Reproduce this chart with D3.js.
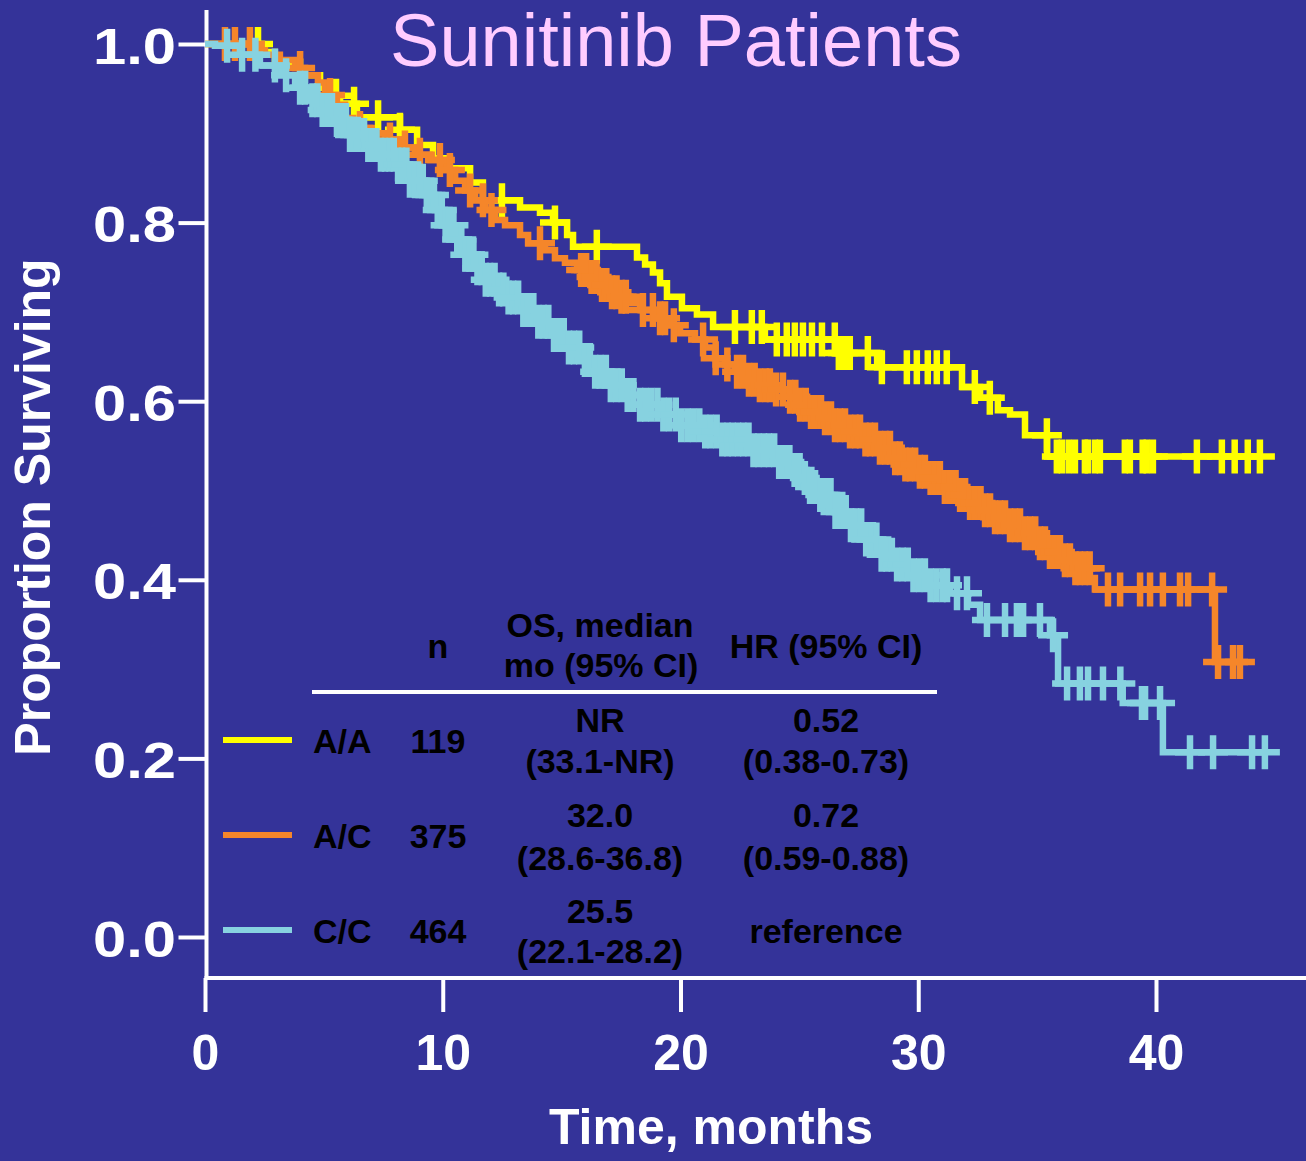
<!DOCTYPE html>
<html>
<head>
<meta charset="utf-8">
<script src="https://cdn.jsdelivr.net/npm/d3@7/dist/d3.min.js"></script>
<style>
  html, body { margin: 0; padding: 0; background: #343399; }
  svg { display: block; }
</style>
</head>
<body>
<svg id="chart" width="1306" height="1161"></svg>
<script>
// Axis ticks
const monthTicks = [0, 10, 20, 30, 40];
const survTicks = [0, 0.2, 0.4, 0.6, 0.8, 1.0];

// Kaplan-Meier step knots [month, proportion surviving] per genotype
const aaSteps = [
  [0, 1.000], [2.40, 0.991], [2.94, 0.980], [4.00, 0.965], [4.84, 0.951], [5.26, 0.942],
  [5.68, 0.933], [6.39, 0.918], [8.20, 0.904], [8.92, 0.887], [9.59, 0.872], [10.30, 0.861],
  [11.15, 0.845], [11.69, 0.825], [13.25, 0.817], [14.09, 0.811], [14.64, 0.800], [15.23, 0.786],
  [15.48, 0.773], [18.17, 0.761], [18.51, 0.753], [18.84, 0.744], [19.14, 0.732], [19.43, 0.717],
  [20.06, 0.704], [20.69, 0.697], [21.37, 0.683], [23.55, 0.669], [26.58, 0.654], [28.27, 0.638],
  [31.84, 0.616], [32.60, 0.604], [33.35, 0.590], [33.86, 0.585], [34.49, 0.562], [35.42, 0.538]
];
const acSteps = [
  [0, 1.000], [2.10, 0.993], [2.52, 0.988], [3.15, 0.982], [3.79, 0.973], [4.21, 0.965],
  [4.75, 0.957], [5.05, 0.943], [5.55, 0.932], [5.89, 0.917], [6.23, 0.906], [6.94, 0.900],
  [7.57, 0.893], [8.20, 0.884], [8.83, 0.876], [9.46, 0.870], [10.09, 0.859], [10.52, 0.847],
  [10.94, 0.836], [11.36, 0.825], [11.78, 0.814], [12.20, 0.803], [12.62, 0.797], [13.25, 0.786],
  [13.59, 0.777], [14.30, 0.769], [14.72, 0.760], [15.14, 0.755], [15.65, 0.747], [16.19, 0.739],
  [16.61, 0.730], [17.12, 0.722], [17.46, 0.717], [17.88, 0.710], [18.30, 0.702], [18.93, 0.693],
  [19.56, 0.685], [19.98, 0.676], [20.61, 0.669], [21.03, 0.660], [21.45, 0.648], [21.87, 0.641],
  [22.29, 0.633], [22.71, 0.624], [23.34, 0.618], [23.97, 0.613], [24.40, 0.605], [25.03, 0.596],
  [25.45, 0.588], [26.08, 0.581], [26.50, 0.573], [27.13, 0.566], [27.76, 0.557], [28.39, 0.548],
  [29.02, 0.536], [29.44, 0.529], [29.99, 0.521], [30.49, 0.514], [31.12, 0.504], [31.67, 0.495],
  [32.18, 0.486], [32.81, 0.478], [33.23, 0.470], [33.86, 0.461], [34.49, 0.452], [35.12, 0.441],
  [35.54, 0.431], [36.05, 0.422], [36.59, 0.413], [37.22, 0.402], [37.43, 0.389], [42.48, 0.308]
];
const ccSteps = [
  [0, 1.000], [0.42, 0.998], [1.47, 0.988], [2.31, 0.976], [3.15, 0.965], [3.79, 0.951],
  [4.42, 0.937], [4.84, 0.926], [5.47, 0.915], [6.10, 0.898], [6.73, 0.887], [7.36, 0.876],
  [7.99, 0.865], [8.62, 0.847], [9.25, 0.831], [9.67, 0.814], [10.09, 0.797], [10.52, 0.781],
  [10.94, 0.764], [11.36, 0.749], [11.78, 0.736], [12.20, 0.725], [12.62, 0.716], [13.25, 0.702],
  [13.88, 0.689], [14.51, 0.674], [15.14, 0.660], [15.77, 0.646], [16.40, 0.633], [17.03, 0.618],
  [17.67, 0.607], [18.30, 0.596], [19.14, 0.585], [19.98, 0.573], [20.82, 0.566], [21.66, 0.557],
  [22.92, 0.545], [23.97, 0.532], [24.61, 0.523], [25.03, 0.514], [25.45, 0.504], [25.87, 0.495],
  [26.50, 0.476], [27.13, 0.461], [27.76, 0.445], [28.39, 0.428], [29.02, 0.417], [29.65, 0.405],
  [30.49, 0.394], [31.34, 0.385], [32.09, 0.372], [32.60, 0.355], [35.54, 0.338], [35.88, 0.284],
  [38.60, 0.262], [40.29, 0.207]
];

// Censoring times (months) per genotype
const aaCensor = [
  2.23, 5.51, 6.27, 7.28, 8.20, 12.49, 14.72, 16.48, 22.29, 23.00, 23.42, 24.05, 24.47, 24.81,
  25.15, 25.53, 25.95, 26.49, 26.66, 26.83, 27.02, 27.12, 27.88, 28.47, 29.52, 29.94, 30.40,
  30.78, 31.20, 32.38, 33.01, 35.41, 35.83, 36.04, 36.33, 36.59, 37.01, 37.13, 37.43, 37.64,
  38.69, 38.90, 39.44, 39.61, 39.87, 41.72, 42.77, 43.31, 43.86, 44.37
];
const acCensor = [
  0.84, 1.26, 1.89, 4.00, 5.26, 6.52, 7.78, 8.41, 9.04, 9.88, 10.30, 11.15, 11.69, 12.05, 14.09,
  15.82, 16.03, 16.26, 16.47, 16.70, 16.88, 17.12, 17.31, 17.52, 17.70, 18.42, 18.84, 19.14,
  19.35, 19.72, 20.95, 21.48, 21.97, 22.38, 22.63, 22.88, 23.12, 23.34, 23.58, 23.76, 24.02,
  24.31, 24.61, 24.83, 25.03, 25.27, 25.49, 25.66, 25.91, 26.08, 26.33, 26.50, 26.71, 26.92,
  27.13, 27.36, 27.55, 27.78, 27.97, 28.18, 28.39, 28.62, 28.81, 29.03, 29.23, 29.46, 29.65,
  29.87, 30.07, 30.28, 30.52, 30.70, 30.91, 31.12, 31.34, 31.57, 31.76, 31.97, 32.18, 32.39,
  32.62, 32.81, 33.02, 33.23, 33.44, 33.65, 33.86, 34.07, 34.28, 34.49, 34.70, 34.92, 35.12,
  35.33, 35.54, 35.76, 35.96, 36.17, 36.38, 36.61, 36.80, 37.01, 37.21, 37.98, 38.49, 39.33,
  39.75, 40.29, 41.01, 41.35, 42.36, 42.61, 43.24, 43.53
];
const ccCensor = [
  0.93, 1.56, 2.12, 2.94, 3.41, 4.00, 4.21, 4.52, 4.73, 4.95, 5.18, 5.34, 5.55, 5.77, 5.93,
  6.10, 6.32, 6.48, 6.69, 6.87, 7.02, 7.21, 7.40, 7.57, 7.76, 7.94, 8.12, 8.29, 8.47, 8.62,
  8.83, 9.02, 9.16, 9.33, 9.48, 9.63, 9.79, 9.96, 10.12, 10.27, 10.45, 10.61, 10.78, 10.95,
  11.12, 11.29, 11.46, 11.64, 11.81, 11.99, 12.18, 12.37, 12.55, 12.77, 12.96, 13.17, 13.39,
  13.58, 13.81, 14.02, 14.25, 14.44, 14.68, 14.88, 15.09, 15.31, 15.52, 15.74, 15.98, 16.19,
  16.41, 16.63, 16.86, 17.07, 17.30, 17.53, 17.78, 18.02, 18.30, 18.52, 18.77, 19.03, 19.28,
  19.52, 19.80, 20.03, 20.29, 20.53, 20.79, 21.04, 21.27, 21.52, 21.76, 21.98, 22.19, 22.42,
  22.64, 22.86, 23.07, 23.28, 23.51, 23.72, 23.94, 24.15, 24.37, 24.58, 24.80, 25.01, 25.23,
  25.45, 25.66, 25.88, 26.09, 26.31, 26.52, 26.74, 26.95, 27.17, 27.38, 27.60, 27.81, 28.03,
  28.24, 28.46, 28.67, 28.89, 29.11, 29.34, 29.56, 29.80, 30.04, 30.28, 30.52, 30.76, 31.02,
  31.21, 31.63, 32.05, 32.89, 33.65, 34.15, 34.41, 35.12, 35.67, 36.26, 36.80, 37.14, 37.77,
  38.50, 39.41, 39.54, 40.17, 41.43, 42.40, 44.04, 44.58
];

// Summary table
const genotypes = ["A/A", "A/C", "C/C"];
const seriesColors = ["#ffff00", "#f5862a", "#87d2e0"];
const nPatients = ["119", "375", "464"];
const osMedian = ["NR", "32.0", "25.5"];
const osRange = ["(33.1-NR)", "(28.6-36.8)", "(22.1-28.2)"];
const hrValue = ["0.52", "0.72", "reference"];
const hrRange = ["(0.38-0.73)", "(0.59-0.88)", ""];

const svg = d3.select("#chart");
const W = 1306, H = 1161;
const FONT = "'Liberation Sans', Arial, Helvetica, sans-serif";

svg.append("rect").attr("width", W).attr("height", H).attr("fill", "#343399");

const x = d3.scaleLinear().domain([0, 40]).range([205, 1156]);
const y = d3.scaleLinear().domain([0, 1]).range([937, 44]);

// Axes
const axisX = 978, axisY = 206.5;
svg.append("line").attr("x1", axisY).attr("x2", axisY).attr("y1", 10).attr("y2", axisX + 2)
  .attr("stroke", "#fff").attr("stroke-width", 4);
svg.append("line").attr("x1", axisY - 2).attr("x2", W).attr("y1", axisX).attr("y2", axisX)
  .attr("stroke", "#fff").attr("stroke-width", 4);

const gy = svg.append("g").attr("transform", `translate(${axisY},0)`)
  .call(d3.axisLeft(y).tickValues(survTicks).tickSize(28).tickFormat(d3.format(".1f")));
const gx = svg.append("g").attr("transform", `translate(0,${axisX})`)
  .call(d3.axisBottom(x).tickValues(monthTicks).tickSize(34).tickFormat(d3.format("d")));
[gx, gy].forEach(g => {
  g.select(".domain").remove();
  g.selectAll(".tick line").attr("stroke", "#fff").attr("stroke-width", 4);
  g.selectAll(".tick text").attr("fill", "#fff").attr("font-family", FONT)
    .attr("font-weight", "bold").attr("font-size", 50);
});
// survival labels are set wider than the month labels
gy.selectAll(".tick text").attr("text-anchor", "start").attr("x", 93 - axisY)
  .attr("dy", "0.38em").attr("textLength", 83).attr("lengthAdjust", "spacingAndGlyphs");
gx.selectAll(".tick text").attr("y", 92).attr("dy", 0);

// Title and axis titles
svg.append("text").attr("x", 676).attr("y", 66).attr("text-anchor", "middle")
  .attr("font-family", FONT).attr("font-size", 74).attr("fill", "#ffccff")
  .text("Sunitinib Patients");
svg.append("text").attr("x", 711).attr("y", 1144).attr("text-anchor", "middle")
  .attr("font-family", FONT).attr("font-weight", "bold").attr("font-size", 50).attr("fill", "#fff")
  .text("Time, months");
svg.append("text").attr("transform", "translate(50,507) rotate(-90)").attr("text-anchor", "middle")
  .attr("font-family", FONT).attr("font-weight", "bold").attr("font-size", 50).attr("fill", "#fff")
  .text("Proportion Surviving");

// Survival curves with censoring marks
function survAt(steps, t) {
  const i = d3.bisector(d => d[0]).right(steps, t) - 1;
  return steps[Math.max(0, i)][1];
}
const survLine = d3.line().x(d => x(d[0])).y(d => y(d[1])).curve(d3.curveStepAfter);
const series = [
  { steps: aaSteps, censor: aaCensor, color: seriesColors[0] },
  { steps: acSteps, censor: acCensor, color: seriesColors[1] },
  { steps: ccSteps, censor: ccCensor, color: seriesColors[2] }
];
series.forEach(s => {
  const lastT = d3.max(s.censor);
  const pts = s.steps.concat([[lastT, s.steps[s.steps.length - 1][1]]]);
  const g = svg.append("g");
  g.append("path").attr("d", survLine(pts)).attr("fill", "none")
    .attr("stroke", s.color).attr("stroke-width", 6.5).attr("stroke-linejoin", "miter");
  g.selectAll("path.cens").data(s.censor).join("path").attr("class", "cens")
    .attr("d", t => {
      const cx = x(t), cy = y(survAt(s.steps, t));
      return `M${cx - 15},${cy}H${cx + 15}M${cx},${cy - 17}V${cy + 17}`;
    })
    .attr("fill", "none").attr("stroke", s.color).attr("stroke-width", 6.5);
});

// Summary table
const tbl = svg.append("g").attr("font-family", FONT).attr("font-weight", "bold")
  .attr("font-size", 34).attr("fill", "#000");
tbl.append("text").attr("x", 438).attr("y", 658).attr("text-anchor", "middle").text("n");
tbl.append("text").attr("x", 600).attr("y", 637).attr("text-anchor", "middle").text("OS, median");
tbl.append("text").attr("x", 601).attr("y", 677).attr("text-anchor", "middle").text("mo (95% CI)");
tbl.append("text").attr("x", 826).attr("y", 658).attr("text-anchor", "middle").text("HR (95% CI)");
svg.append("line").attr("x1", 312).attr("x2", 937).attr("y1", 692).attr("y2", 692)
  .attr("stroke", "#fff").attr("stroke-width", 4);

const rowBase = [753, 848, 943];
const rowTop = [732, 827, 923];
const rowBottom = [773, 870, 963];
const legendY = [740, 835, 930];
genotypes.forEach((gname, i) => {
  svg.append("line").attr("x1", 223).attr("x2", 292).attr("y1", legendY[i]).attr("y2", legendY[i])
    .attr("stroke", seriesColors[i]).attr("stroke-width", 6);
  tbl.append("text").attr("x", 313).attr("y", rowBase[i]).text(gname);
  tbl.append("text").attr("x", 438).attr("y", rowBase[i]).attr("text-anchor", "middle").text(nPatients[i]);
  tbl.append("text").attr("x", 600).attr("y", rowTop[i]).attr("text-anchor", "middle").text(osMedian[i]);
  tbl.append("text").attr("x", 600).attr("y", rowBottom[i]).attr("text-anchor", "middle").text(osRange[i]);
  if (hrRange[i]) {
    tbl.append("text").attr("x", 826).attr("y", rowTop[i]).attr("text-anchor", "middle").text(hrValue[i]);
    tbl.append("text").attr("x", 826).attr("y", rowBottom[i]).attr("text-anchor", "middle").text(hrRange[i]);
  } else {
    tbl.append("text").attr("x", 826).attr("y", rowBase[i]).attr("text-anchor", "middle").text(hrValue[i]);
  }
});
</script>
</body>
</html>
